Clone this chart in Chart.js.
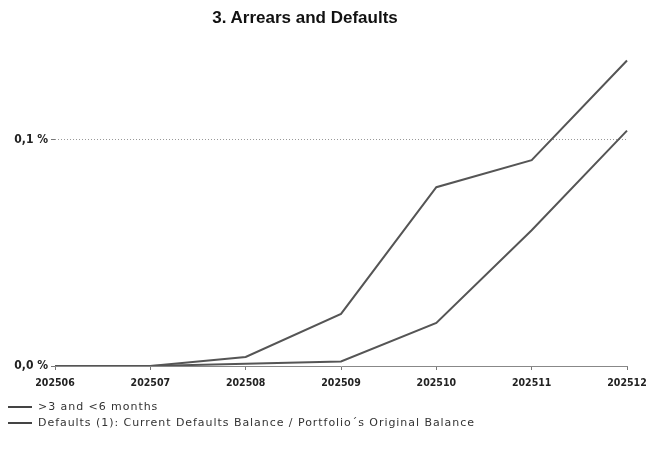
<!DOCTYPE html>
<html>
<head>
<meta charset="utf-8">
<script src="https://cdn.jsdelivr.net/npm/chart.js@4"></script>
<style>
  body { margin: 0; background: #fff; }
  #wrap { position: relative; width: 646px; height: 452px; }
  #title { position: absolute; left: 0; top: 8px; width: 610px; text-align: center; font-family: "Liberation Sans", Arial, sans-serif; font-weight: bold; font-size: 17px; color: #111; }
  #legend { position: absolute; left: 8px; top: 399px; font-family: "DejaVu Sans", sans-serif; font-size: 11px; letter-spacing: 0.95px; color: #333; }
  #legend div { height: 16px; line-height: 16px; white-space: nowrap; }
  #legend span.ln { display: inline-block; width: 24px; height: 0; border-top: 2px solid #444; vertical-align: middle; margin-right: 6px; }
</style>
</head>
<body>
<div id="wrap">
  <canvas id="chartArrears" width="646" height="452"></canvas>
  <div id="title">3. Arrears and Defaults</div>
  <div id="legend"></div>
</div>
<script>
// Data (values in %)
const periods = ['202506', '202507', '202508', '202509', '202510', '202511', '202512'];
const arrears3to6 = [0, 0, 0.004, 0.023, 0.079, 0.091, 0.135];
const defaultsRatio = [0, 0, 0.001, 0.002, 0.019, 0.060, 0.104];
const yTicks = [0, 0.1];
const seriesLabels = ['>3 and <6 months', 'Defaults (1): Current Defaults Balance / Portfolio´s Original Balance'];

document.addEventListener('DOMContentLoaded', () => {
    const lineColor = '#555555';
    const chart = new Chart('chartArrears', {
        type: 'line',
        data: {
            labels: periods,
            datasets: [{
                label: seriesLabels[0],
                data: arrears3to6,
                borderColor: lineColor,
                borderWidth: 2,
                pointRadius: 0,
                tension: 0
            }, {
                label: seriesLabels[1],
                data: defaultsRatio,
                borderColor: lineColor,
                borderWidth: 2,
                pointRadius: 0,
                tension: 0
            }]
        },
        options: {
            responsive: false,
            animation: false,
            layout: { padding: { left: 0, right: 0, top: 56, bottom: 56 } },
            scales: {
                x: {
                    afterFit: scale => {
                        scale.height = 30;
                        scale.paddingLeft = 0;
                        scale.paddingRight = 19;
                    },
                    grid: { drawOnChartArea: false, drawTicks: true, tickLength: 4, tickColor: '#777' },
                    border: { color: '#888', dash: [1, 1], width: 1 },
                    ticks: {
                        color: '#222',
                        font: { family: 'DejaVu Sans Condensed', size: 10.5, weight: 'bold' },
                        maxRotation: 0,
                        autoSkip: false,
                        padding: 7
                    }
                },
                y: {
                    min: 0,
                    max: 0.137,
                    afterFit: scale => { scale.width = 55; },
                    afterBuildTicks: scale => { scale.ticks = yTicks.map(v => ({ value: v })); },
                    grid: {
                        color: ctx => ctx.tick && ctx.tick.value === 0 ? 'rgba(0,0,0,0)' : '#999',
                        tickColor: '#777',
                        tickLength: 4,
                        lineWidth: 1
                    },
                    border: { display: false, dash: [1, 2] },
                    ticks: {
                        color: '#222',
                        font: { family: 'DejaVu Sans Condensed', size: 12, weight: 'bold' },
                        padding: 3,
                        callback: v => v.toFixed(1).replace('.', ',') + ' %'
                    }
                }
            },
            plugins: {
                legend: { display: false },
                tooltip: { enabled: false },
                title: { display: false }
            }
        }
    });

    // HTML legend, one row per series
    const legendBox = document.getElementById('legend');
    chart.data.datasets.forEach(ds => {
        const row = document.createElement('div');
        const ln = document.createElement('span');
        ln.className = 'ln';
        row.appendChild(ln);
        row.appendChild(document.createTextNode(ds.label));
        legendBox.appendChild(row);
    });
});
</script>
</body>
</html>
